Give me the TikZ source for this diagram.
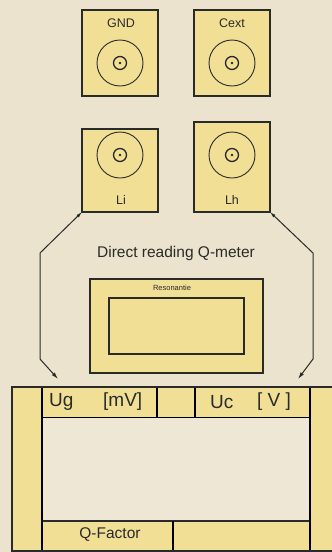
\documentclass[tikz,border=0pt]{standalone}
\usepackage{fontspec}
\setmainfont{Liberation Sans}
\usetikzlibrary{arrows.meta}
\definecolor{bgc}{RGB}{236,227,206}
\definecolor{ylw}{RGB}{242,223,150}
\definecolor{ink}{RGB}{40,43,40}
\definecolor{thin}{RGB}{110,115,105}
\begin{document}
\begin{tikzpicture}[x=1pt,y=-1pt,
  jack/.style={draw=ink,fill=ylw,line width=1.3pt},
  lbl/.style={font=\fontsize{12.5}{14}\selectfont,text=ink,inner sep=0pt},
  big/.style={font=\fontsize{19}{21}\selectfont,text=ink,inner sep=0pt},
  mid/.style={font=\fontsize{15.5}{17}\selectfont,text=ink,inner sep=0pt},
  conn/.style={draw=ink,line width=1pt,{Latex[length=6pt,width=3.5pt]}-{Latex[length=7pt,width=4pt]}}]
\useasboundingbox (0,0) rectangle (332,552);
\fill[bgc] (0,0) rectangle (332,552);
% jacks
\foreach \n/\xa/\ya/\xb/\yb/\cy in {gnd/82/10/158/96/63, cext/194/10/270/96/63, li/82/129/158/212/155, lh/194/122/270/212/155}{
  \draw[jack] (\xa,\ya) rectangle (\xb,\yb);
  \coordinate (\n c) at ({(\xa+\xb)/2},\cy);
  \draw[ink,line width=0.9pt] (\n c) circle[radius=23];
  \draw[ink,line width=1.3pt] (\n c) circle[radius=6.5];
  \fill[ink] (\n c) circle[radius=1.4];
}
\coordinate (liC) at (82,212);
\coordinate (lhC) at (270,212);
\node[lbl] (tgnd) at (121,23) {GND};
\node[lbl] (tcext) at (232,23) {Cext};
\node[lbl] (tli) at (121,200) {Li};
\node[lbl] (tlh) at (232,200) {Lh};
\node[mid] (title) at (176,253) {Direct reading Q-meter};
% resonantie meter
\draw[draw=ink,fill=ylw,line width=2.4pt] (90,279) rectangle (263,373);
\draw[draw=ink,fill=ylw,line width=1.4pt] (109,298) rectangle (244,354);
\node[font=\fontsize{7.5}{9}\selectfont,text=ink,inner sep=0pt] (tres) at (172,288) {Resonantie};
% bottom panel
\fill[bgc!85!white] (42,417) rectangle (310,521);
\fill[ylw] (12,387) rectangle (42,551);
\fill[ylw] (310,387) rectangle (334,551);
\fill[ylw] (42,387) rectangle (310,417);
\fill[ylw] (42,521) rectangle (310,551);
\draw[thin,line width=1pt] (42,417) -- (310,417);
\draw[ink,line width=1.5pt] (42,521) -- (310,521);
\draw[thin,line width=1.2pt] (42,387) -- (42,551);
\draw[thin,line width=1.2pt] (310,387) -- (310,551);
\draw[thin,line width=1.2pt] (157,387) -- (157,417);
\draw[thin,line width=1.2pt] (195,387) -- (195,417);
\draw[thin,line width=1.2pt] (173,521) -- (173,551);
\draw[ink,line width=2pt] (12,387) rectangle (336,551);
\coordinate (ugA) at (58,379);
\coordinate (ucA) at (298,379);
\node[big,anchor=west] (tug) at (49,402) {Ug};
\node[big,anchor=west] (tmv) at (103,402) {[mV]};
\node[big,anchor=west] (tuc) at (210,402) {Uc};
\node[big,anchor=west] (tv) at (257,402) {[ V ]};
\node[mid] (tq) at (110,535) {Q-Factor};
% connectors
\draw[conn] (liC) -- (40,253) -- (40,359) -- (ugA);
\draw[conn] (lhC) -- (313,253) -- (313,359) -- (ucA);
\end{tikzpicture}
\end{document}
